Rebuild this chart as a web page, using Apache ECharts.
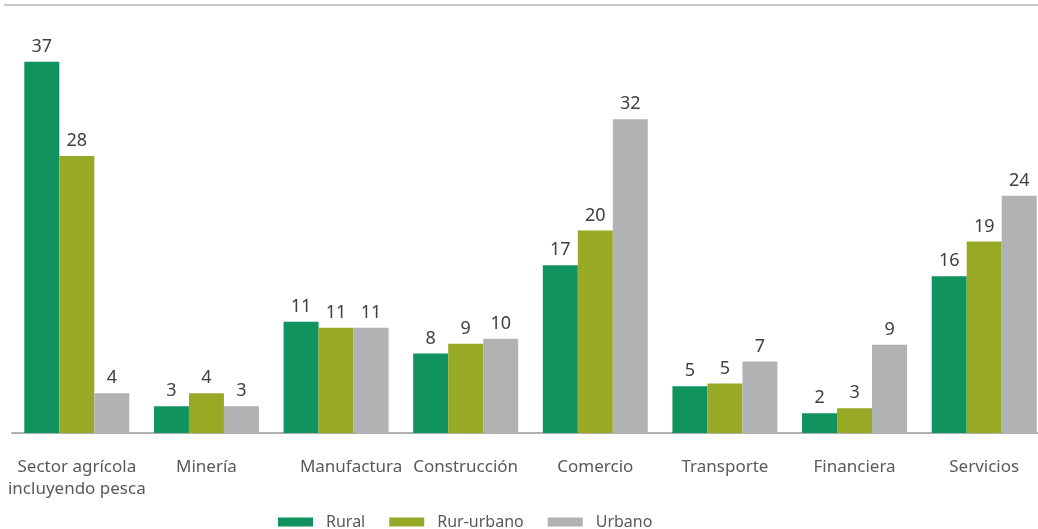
<!DOCTYPE html>
<html>
<head>
<meta charset="utf-8">
<script src="https://cdn.jsdelivr.net/npm/echarts@6/dist/echarts.min.js"></script>
<style>
  html, body { margin: 0; padding: 0; background: #fff; }
  #chart { width: 1038px; height: 529px; }
</style>
</head>
<body>
<div id="chart"></div>
<script>
  // sectores
  var categories = ['Sector agrícola\nincluyendo pesca', 'Minería', 'Manufactura', 'Construcción',
    'Comercio', 'Transporte', 'Financiera', 'Servicios'];
  var seriesNames = ['Rural', 'Rur-urbano', 'Urbano'];
  var rural = [37.4, 2.7, 11.2, 8.0, 16.9, 4.7, 2.0, 15.8];
  var rurUrbano = [27.9, 4.0, 10.6, 9.0, 20.4, 5.0, 2.5, 19.3];
  var urbano = [4.0, 2.7, 10.6, 9.5, 31.6, 7.2, 8.9, 23.9];
  var colors = ['#10935e', '#98a926', '#b1b2b4'];

  function makeSeries(name, data) {
    return {
      name: name,
      type: 'bar',
      data: data,
      barWidth: 35,
      barGap: '0%',
      label: {
        show: true,
        position: 'top',
        distance: 6,
        color: '#404040',
        fontSize: 18,
        fontFamily: 'Noto Sans',
        formatter: function (p) { return Math.round(p.value); }
      }
    };
  }

  var chart = echarts.init(document.getElementById('chart'));
  var option = {
    animation: false,
    color: colors,
    textStyle: { fontFamily: 'Noto Sans' },
    grid: { left: 12, right: -11, top: 36, bottom: 96, outerBoundsMode: 'none' },
    graphic: [{
      type: 'line',
      shape: { x1: 4, y1: 5, x2: 1038, y2: 5 },
      style: { stroke: '#c8c8c8', lineWidth: 2 }
    }],
    legend: {
      data: seriesNames,
      left: 273,
      top: 509,
      itemWidth: 35,
      itemHeight: 9,
      itemGap: 24,
      icon: 'rect',
      textStyle: { color: '#595959', fontSize: 16, padding: [0, 0, 0, 8] }
    },
    xAxis: {
      type: 'category',
      data: categories,
      axisTick: { show: false },
      axisLine: { lineStyle: { color: '#b0b0b0', width: 2 } },
      axisLabel: {
        interval: 0,
        color: '#595959',
        fontSize: 17,
        lineHeight: 22,
        margin: 23,
        formatter: function (v) {
          return v === 'Manufactura' ? '{m|' + v + '}' : v;
        },
        rich: { m: { color: '#595959', fontSize: 17, padding: [0, 0, 0, 30] } }
      }
    },
    yAxis: {
      type: 'value',
      min: 0,
      max: 40,
      show: false
    },
    series: [
      makeSeries(seriesNames[0], rural),
      makeSeries(seriesNames[1], rurUrbano),
      makeSeries(seriesNames[2], urbano)
    ]
  };
  chart.setOption(option);
</script>
</body>
</html>
